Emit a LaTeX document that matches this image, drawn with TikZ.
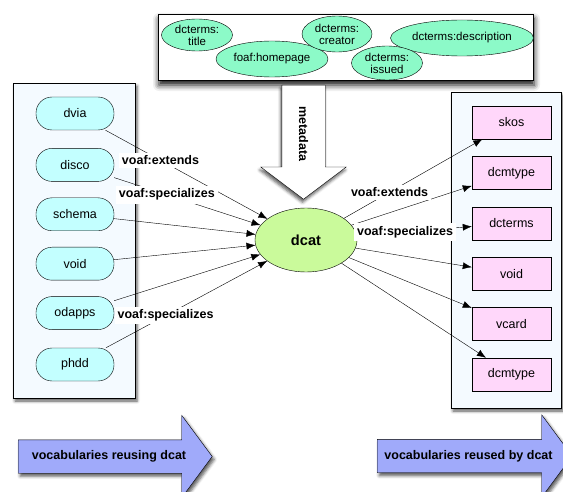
\documentclass[tikz,border=0pt]{standalone}
\usepackage{fontspec}
\setmainfont{Liberation Sans}
\usetikzlibrary{arrows.meta, positioning, shapes.geometric, shapes.arrows, shadows.blur}

\definecolor{termgreen}{RGB}{140,250,200}
\definecolor{usercyan}{RGB}{195,255,255}
\definecolor{usedpink}{RGB}{255,215,250}
\definecolor{dcatgreen}{RGB}{202,250,155}
\definecolor{panelblue}{RGB}{244,250,255}
\definecolor{bandblue}{RGB}{160,170,250}

\begin{document}
\begin{tikzpicture}[x=1pt, y=-1pt,
    node distance=16pt,
    >={Latex[length=9pt,width=7pt]},
    every node/.style={font=\fontsize{12.5}{15}\selectfont},
    panel/.style={draw, fill=panelblue, inner sep=0pt,
        blur shadow={shadow xshift=2pt, shadow yshift=-3pt, shadow blur radius=3pt, shadow opacity=65}},
    usingvocab/.style={draw, fill=usercyan, rounded corners=16pt, minimum width=78pt, minimum height=33pt},
    usedvocab/.style={draw, fill=usedpink, minimum width=79pt, minimum height=33pt},
    term/.style={ellipse, draw, fill=termgreen, align=center, inner sep=0pt,
        font=\fontsize{11.5}{12}\selectfont},
    rel/.style={fill=white, inner sep=3pt, font=\bfseries\fontsize{12.5}{15}\selectfont},
    band/.style={single arrow, draw, fill=bandblue, text height=9pt, text depth=2.5pt,
        inner xsep=2pt, inner ysep=10.75pt, single arrow head extend=24.5pt,
        single arrow tip angle=107, font=\bfseries\fontsize{12.5}{15}\selectfont,
        blur shadow={shadow xshift=2pt, shadow yshift=-3pt, shadow blur radius=3pt, shadow opacity=65}}]

    \useasboundingbox (0,0) rectangle (563,492);

    % containers
    \node[panel, minimum width=122pt, minimum height=315pt] (userpanel) at (74,240.5) {};
    \node[panel, minimum width=110pt, minimum height=316pt] (usedpanel) at (506,250) {};
    \node[draw, fill=white, inner sep=0pt, minimum width=375pt, minimum height=66pt,
        blur shadow={shadow xshift=1pt, shadow yshift=-5pt, shadow blur radius=6pt, shadow opacity=95}]
        (metabox) at (345.5,47) {};

    % metadata terms
    \node[term, minimum width=71pt, minimum height=32pt]  (title)       at (197,35)  {dcterms:\\title};
    \node[term, minimum width=112pt, minimum height=36pt] (homepage)    at (272,59)  {foaf:homepage};
    \node[term, minimum width=70pt, minimum height=36pt]  (creator)     at (337,34)  {dcterms:\\creator};
    \node[term, minimum width=143pt, minimum height=36pt] (description) at (462,38)  {dcterms:description};
    \node[term, minimum width=71pt, minimum height=34pt]  (issued)      at (387,63)  {dcterms:\\issued};

    \node[single arrow, draw, fill=white, rotate=-90, anchor=tail,
        text height=9pt, text depth=0pt, inner xsep=2pt, inner ysep=17pt,
        single arrow head extend=21pt, single arrow tip angle=106, minimum height=114pt,
        font=\bfseries\fontsize{12.5}{15}\selectfont,
        blur shadow={shadow xshift=-1pt, shadow yshift=-3pt, shadow blur radius=3pt, shadow opacity=65}]
        (metadata) at (303.5,85) {metadata};

    \node[ellipse, draw, fill=dcatgreen, minimum width=102pt, minimum height=64pt,
        font=\bfseries\fontsize{14.6}{16}\selectfont] (dcat) at (306,240) {dcat};

    % vocabularies reusing dcat
    \node[usingvocab] (dvia)            at (75,113.5) {dvia};
    \node[usingvocab] (disco)  [below=18pt of dvia]   {disco};
    \node[usingvocab] (schema) [below=of disco]  {schema};
    \node[usingvocab] (voidL)  [below=of schema] {void};
    \node[usingvocab] (odapps) [below=of voidL]  {odapps};
    \node[usingvocab] (phdd)   [below=18pt of odapps] {phdd};

    % vocabularies reused by dcat
    \node[usedvocab] (skos)             at (511.5,122.5) {skos};
    \node[usedvocab] (dcmtypeA) [below=17pt of skos]     {dcmtype};
    \node[usedvocab] (dcterms)  [below=17pt of dcmtypeA] {dcterms};
    \node[usedvocab] (voidR)    [below=17pt of dcterms]  {void};
    \node[usedvocab] (vcard)    [below=17pt of voidR]    {vcard};
    \node[usedvocab] (dcmtypeB) [below=17pt of vcard]    {dcmtype};

    \path[->]
    (schema) edge (dcat)
    (voidL)  edge (dcat)
    (odapps) edge (dcat)
    (dcat) edge (dcmtypeA)
    (dcat) edge (voidR)
    (dcat) edge (vcard)
    (dcat) edge (dcmtypeB)
    (dvia)  edge node [rel, pos=0.34] {voaf:extends} (dcat)
    (disco) edge node [rel, pos=0.36] {voaf:specializes} (dcat)
    (phdd)  edge node [rel, pos=0.37] {voaf:specializes} (dcat)
    (dcat) edge node [rel, pos=0.33] {voaf:extends} (skos)
    (dcat) edge node [rel, pos=0.42] {voaf:specializes} (dcterms)
    ;

    \node[band, minimum height=194pt, anchor=tail] (reusing) at (18,456.5) {vocabularies reusing dcat};
    \node[band, minimum height=195pt, anchor=tail] (reused)  at (377,456)  {vocabularies reused by dcat};
\end{tikzpicture}
\end{document}
